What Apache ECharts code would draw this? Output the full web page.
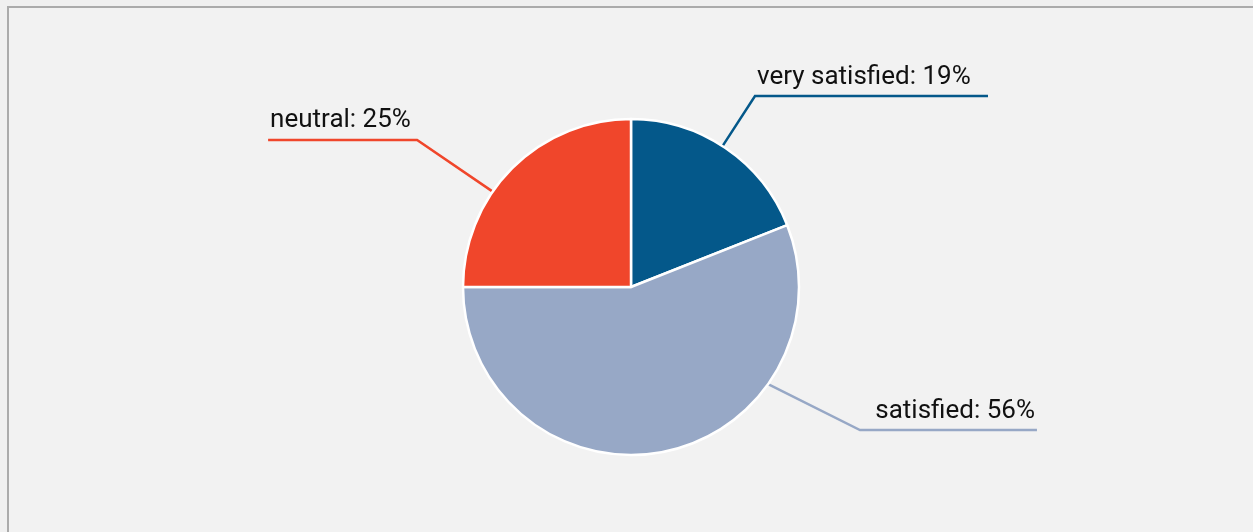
<!DOCTYPE html>
<html>
<head>
<meta charset="utf-8">
<script src="https://cdn.jsdelivr.net/npm/echarts@6/dist/echarts.min.js"></script>
<style>
  html, body { margin: 0; padding: 0; width: 1253px; height: 532px; overflow: hidden; background: #f0f0f0; }
  #frame { position: absolute; left: 7px; top: 6px; width: 1400px; height: 700px;
           border-left: 2px solid #ababab; border-top: 2px solid #ababab; background: #f2f2f2; }
  #chart { position: absolute; left: 0; top: 0; width: 1253px; height: 532px; }
</style>
</head>
<body>
<div id="frame"></div>
<div id="chart"></div>
<script>
// Survey answers, clockwise from 12 o'clock
const categories = ['very satisfied', 'satisfied', 'neutral'];
const shares = [19, 56, 25];
const colors = ['#04588a', '#97a8c6', '#f0462b'];

// Pie geometry
const CENTER_X = 0.5036, CENTER_Y = 0.5395, RADIUS = 168;

// Callout layout per slice: bend direction (deg clockwise from top), bend distance (× radius),
// leader start direction on the rim, horizontal run length, and where the text sits on the run
const calloutBendDeg = [33.0, 122.0, 304.5];
const calloutBendDist = [1.355, 1.607, 1.545];
const calloutStartDeg = [33.0, 125.3, 304.6];
const calloutRun = [233, 177, 149];
const calloutTextAt = ['bend', 'end', 'end'];

const chart = echarts.init(document.getElementById('chart'), null, { renderer: 'canvas' });

function polar(cx, cy, deg, dist) {
  const a = deg * Math.PI / 180;
  return [cx + dist * Math.sin(a), cy - dist * Math.cos(a)];
}

chart.setOption({
  backgroundColor: 'transparent',
  animation: false,
  series: [{
    type: 'pie',
    center: [(CENTER_X * 100) + '%', (CENTER_Y * 100) + '%'],
    radius: RADIUS,
    startAngle: 90,
    clockwise: true,
    avoidLabelOverlap: false,
    itemStyle: { borderColor: '#ffffff', borderWidth: 2.5 },
    label: {
      show: true,
      formatter: '{b}: {d}%',
      color: '#111111',
      fontFamily: 'Roboto',
      fontSize: 26
    },
    labelLine: { show: true, length: 40, length2: 40, lineStyle: { width: 2.5 } },
    labelLayout: function (params) {
      const i = params.dataIndex;
      const cx = chart.getWidth() * CENTER_X;
      const cy = chart.getHeight() * CENTER_Y;
      const start = polar(cx, cy, calloutStartDeg[i], RADIUS);
      const bend = polar(cx, cy, calloutBendDeg[i], RADIUS * calloutBendDist[i]);
      const dir = bend[0] >= cx ? 1 : -1;
      const end = [bend[0] + dir * calloutRun[i], bend[1]];
      let x, align;
      if (calloutTextAt[i] === 'end') {
        x = end[0] - dir * 2;
        align = dir > 0 ? 'right' : 'left';
      } else {
        x = bend[0] + dir * 2;
        align = dir > 0 ? 'left' : 'right';
      }
      return {
        x: x,
        y: bend[1] - 6,
        align: align,
        verticalAlign: 'bottom',
        labelLinePoints: [start, bend, end]
      };
    },
    data: categories.map(function (name, i) {
      return { name: name, value: shares[i], itemStyle: { color: colors[i] } };
    })
  }]
});
</script>
</body>
</html>
